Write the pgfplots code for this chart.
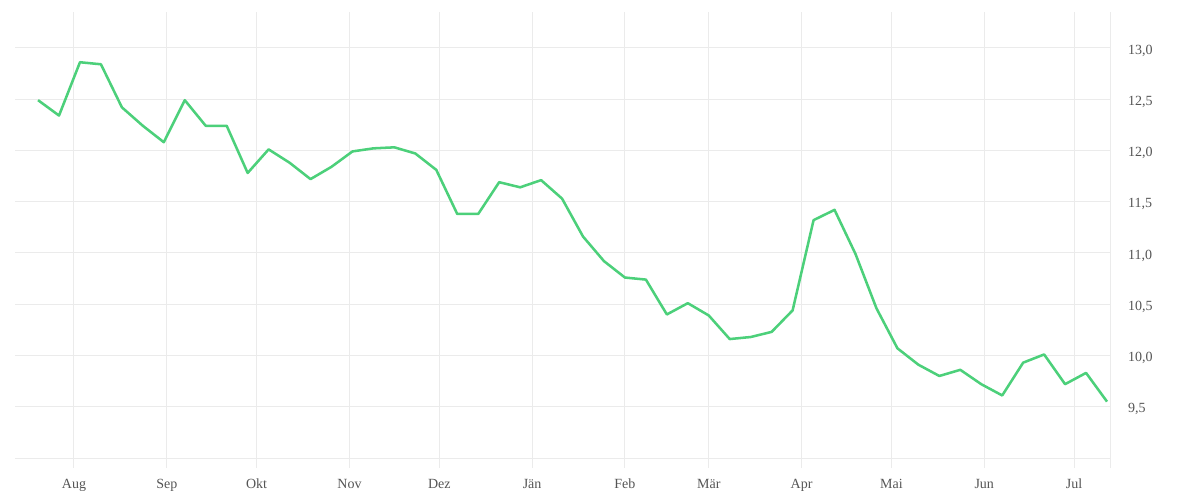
\documentclass[border=0pt]{standalone}
\usepackage{fontspec}
\setmainfont{Liberation Serif}
\usepackage{pgfplots}
\pgfplotsset{compat=1.18}

\definecolor{linegreen}{HTML}{4CD07A}
\definecolor{gridgray}{HTML}{EBEBEB}
\definecolor{labelgray}{HTML}{555555}

\begin{document}
\begin{tikzpicture}
% page: 1200 x 500 px, 1 px = 0.75pt
\useasboundingbox (0,0) rectangle (900pt,375pt);
\begin{axis}[
    at={(11.25pt,31.5pt)}, anchor=south west,
    scale only axis,
    width=821.25pt, height=334.5pt,
    xmin=-19.7, xmax=346,
    ymin=9, ymax=13.35,
    axis x line*=bottom, axis y line*=right,
    x axis line style={draw=gridgray, -},
    y axis line style={draw=gridgray, -, shorten <=-7.5pt},
    xtick={0,31,61,92,122,153,184,212,243,273,304,334},
    xticklabels={Aug,Sep,Okt,Nov,Dez,Jän,Feb,Mär,Apr,Mai,Jun,Jul},
    ytick={9.5,10,10.5,11,11.5,12,12.5,13},
    xmajorgrids, ymajorgrids,
    grid style={draw=gridgray, line width=0.75pt},
    x tick style={draw=gridgray, line width=0.75pt},
    y tick style={draw=none},
    tick align=outside,
    major tick length=7.5pt,
    /pgf/number format/.cd, use comma, fixed, fixed zerofill, precision=1, assume math mode=true,
    /pgfplots/.cd,
    tick label style={font=\fontsize{10.5}{12}\selectfont, text=labelgray},
    yticklabel style={anchor=west, xshift=2.5pt, yshift=-2pt},
    xticklabel style={text height=1.6ex, text depth=0.3ex, yshift=-4.5pt},
]
\addplot[linegreen, line width=1.9pt, line join=round] coordinates {
(-12,12.49) (-5,12.34) (2,12.86) (9,12.84) (16,12.42) (23,12.24) (30,12.08)
(37,12.49) (44,12.24) (51,12.24) (58,11.78) (65,12.01) (72,11.88) (79,11.72)
(86,11.84) (93,11.99) (100,12.02) (107,12.03) (114,11.97) (121,11.81) (128,11.38)
(135,11.38) (142,11.69) (149,11.64) (156,11.71) (163,11.53) (170,11.16) (177,10.92)
(184,10.76) (191,10.74) (198,10.40) (205,10.51) (212,10.39) (219,10.16) (226,10.18)
(233,10.23) (240,10.44) (247,11.32) (254,11.42) (261,10.99) (268,10.46) (275,10.07)
(282,9.91) (289,9.80) (296,9.86) (303,9.72) (310,9.61) (317,9.93) (324,10.01)
(331,9.72) (338,9.83) (345,9.55)
};
\end{axis}
\end{tikzpicture}
\end{document}
